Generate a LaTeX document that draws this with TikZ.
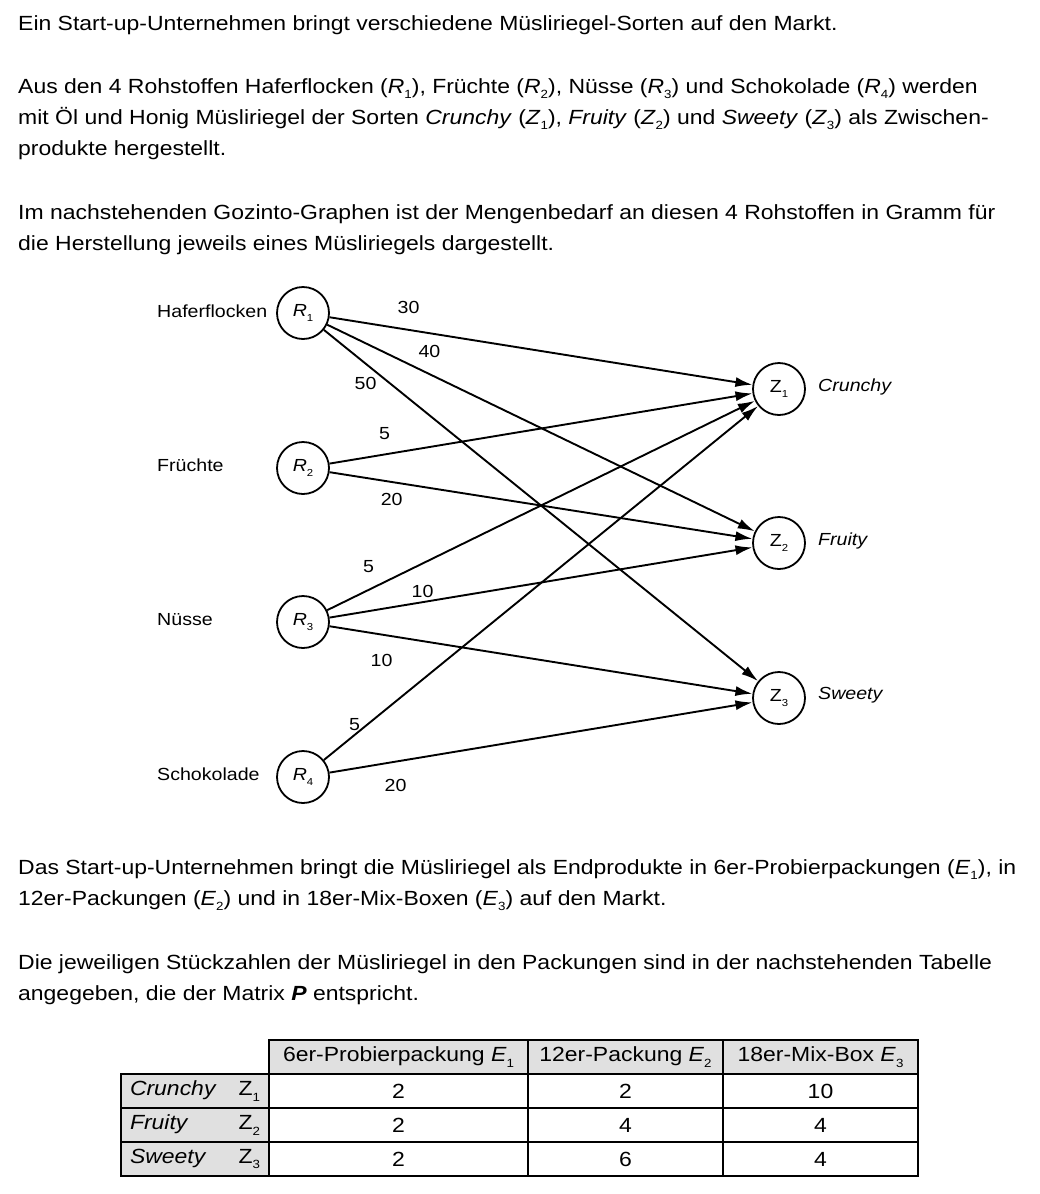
\documentclass[tikz,border=0pt]{standalone}
\usepackage{fontspec}
\setmainfont{Liberation Sans}[FakeStretch=1.12]
\usetikzlibrary{arrows.meta, positioning}
\definecolor{cellGray}{HTML}{E0E0E0}
\newcommand{\lowsub}[1]{\raisebox{-0.28em}{\scalebox{0.58}{#1}}}
\newcommand{\vari}[2]{\textit{#1}\lowsub{#2}}
\newcommand{\varu}[2]{#1\lowsub{#2}}

\begin{document}
\begin{tikzpicture}[x=1pt, y=-1pt,
    txt/.style={anchor=base west, align=left, inner sep=0pt, font=\fontsize{20.5}{31}\selectfont},
    knot/.style={circle, draw, line width=1.8pt, minimum size=52pt, inner sep=0pt, font=\fontsize{17.5}{20}\selectfont},
    lbl/.style={anchor=west, inner sep=0pt, font=\fontsize{17.5}{20}\selectfont},
    wlbl/.style={inner sep=0pt, font=\fontsize{17.5}{20}\selectfont},
    garr/.style={-{Latex[length=17pt, width=10pt]}, line width=1.9pt},
    cell/.style={rectangle, draw, line width=1.2pt, inner sep=0pt, minimum height=34pt, font=\fontsize{20.5}{24}\selectfont}
  ]
  \useasboundingbox (0,0) rectangle (1040,1194);

  % text above the graph
  \node[txt] (intro) at (18,30) {Ein Start-up-Unternehmen bringt verschiedene Müsliriegel-Sorten auf den Markt.};
  \node[txt] (raw) at (18,155) {Aus den 4 Rohstoffen Haferflocken (\vari{R}{1}), Früchte (\vari{R}{2}), Nüsse (\vari{R}{3}) und Schokolade (\vari{R}{4}) werden\\
    mit Öl und Honig Müsliriegel der Sorten \textit{Crunchy} (\vari{Z}{1}), \textit{Fruity} (\vari{Z}{2}) und \textit{Sweety} (\vari{Z}{3}) als Zwischen-\\
    produkte hergestellt.};
  \node[txt] (gozinto) at (18,250) {Im nachstehenden Gozinto-Graphen ist der Mengenbedarf an diesen 4 Rohstoffen in Gramm für\\
    die Herstellung jeweils eines Müsliriegels dargestellt.};

  % raw materials
  \node[knot] (r1) at (303,313) {\vari{R}{1}};
  \node[knot] (r2) at (303,468) {\vari{R}{2}};
  \node[knot] (r3) at (303,622) {\vari{R}{3}};
  \node[knot] (r4) at (303,777) {\vari{R}{4}};
  \node[lbl] (hafer) at (157,311) {Haferflocken};
  \node[lbl] (frucht) at (157,465) {Früchte};
  \node[lbl] (nuss) at (157,620) {Nüsse};
  \node[lbl] (schoko) at (157,774) {Schokolade};

  % intermediate products
  \node[knot] (z1) at (779,389) {\varu{Z}{1}};
  \node[knot] (z2) at (779,543) {\varu{Z}{2}};
  \node[knot] (z3) at (779,698) {\varu{Z}{3}};
  \node[lbl] (crunchy) at (818,387) {\textit{Crunchy}};
  \node[lbl] (fruity) at (818,541) {\textit{Fruity}};
  \node[lbl] (sweety) at (818,695) {\textit{Sweety}};

  \draw[garr] (r1) -- node[wlbl, pos=0.187, yshift=22pt] {30} (z1);
  \draw[garr] (r1) -- node[wlbl, pos=0.239, yshift=23pt] {40} (z2);
  \draw[garr] (r1) -- node[wlbl, pos=0.096, yshift=-20pt] {50} (z3);
  \draw[garr] (r2) -- node[wlbl, pos=0.130, yshift=21pt] {5} (z1);
  \draw[garr] (r2) -- node[wlbl, pos=0.147, yshift=-17pt] {20} (z2);
  \draw[garr] (r3) -- node[wlbl, pos=0.097, yshift=23pt] {5} (z1);
  \draw[garr] (r3) -- node[wlbl, pos=0.220, yshift=11pt] {10} (z2);
  \draw[garr] (r3) -- node[wlbl, pos=0.123, yshift=-26pt] {10} (z3);
  \draw[garr] (r4) -- node[wlbl, pos=0.071, yshift=10pt] {5} (z1);
  \draw[garr] (r4) -- node[wlbl, pos=0.156, yshift=-24pt] {20} (z3);

  % text below the graph
  \node[txt] (endprod) at (18,905) {Das Start-up-Unternehmen bringt die Müsliriegel als Endprodukte in 6er-Probierpackungen (\vari{E}{1}), in\\
    12er-Packungen (\vari{E}{2}) und in 18er-Mix-Boxen (\vari{E}{3}) auf den Markt.};
  \node[txt] (stueck) at (18,1000) {Die jeweiligen Stückzahlen der Müsliriegel in den Packungen sind in der nachstehenden Tabelle\\
    angegeben, die der Matrix \textbf{\textit{P}} entspricht.};

  % table P
  \node[cell, fill=cellGray, minimum width=259pt] (h1) at (398.5,1057) {6er-Probierpackung \vari{E}{1}};
  \node[cell, fill=cellGray, minimum width=195pt] (h2) at (625.5,1057) {12er-Packung \vari{E}{2}};
  \node[cell, fill=cellGray, minimum width=195pt] (h3) at (820.5,1057) {18er-Mix-Box \vari{E}{3}};
  \node[cell, fill=cellGray, minimum width=148pt, text width=130pt, align=left] (c1) at (195,1091) {\textit{Crunchy}\hfill\varu{Z}{1}};
  \node[cell, fill=cellGray, minimum width=148pt, text width=130pt, align=left] (c2) at (195,1125) {\textit{Fruity}\hfill\varu{Z}{2}};
  \node[cell, fill=cellGray, minimum width=148pt, text width=130pt, align=left] (c3) at (195,1159) {\textit{Sweety}\hfill\varu{Z}{3}};
  \node[cell, minimum width=259pt] (p11) at (398.5,1091) {2};
  \node[cell, minimum width=195pt] (p12) at (625.5,1091) {2};
  \node[cell, minimum width=195pt] (p13) at (820.5,1091) {10};
  \node[cell, minimum width=259pt] (p21) at (398.5,1125) {2};
  \node[cell, minimum width=195pt] (p22) at (625.5,1125) {4};
  \node[cell, minimum width=195pt] (p23) at (820.5,1125) {4};
  \node[cell, minimum width=259pt] (p31) at (398.5,1159) {2};
  \node[cell, minimum width=195pt] (p32) at (625.5,1159) {6};
  \node[cell, minimum width=195pt] (p33) at (820.5,1159) {4};
\end{tikzpicture}
\end{document}
